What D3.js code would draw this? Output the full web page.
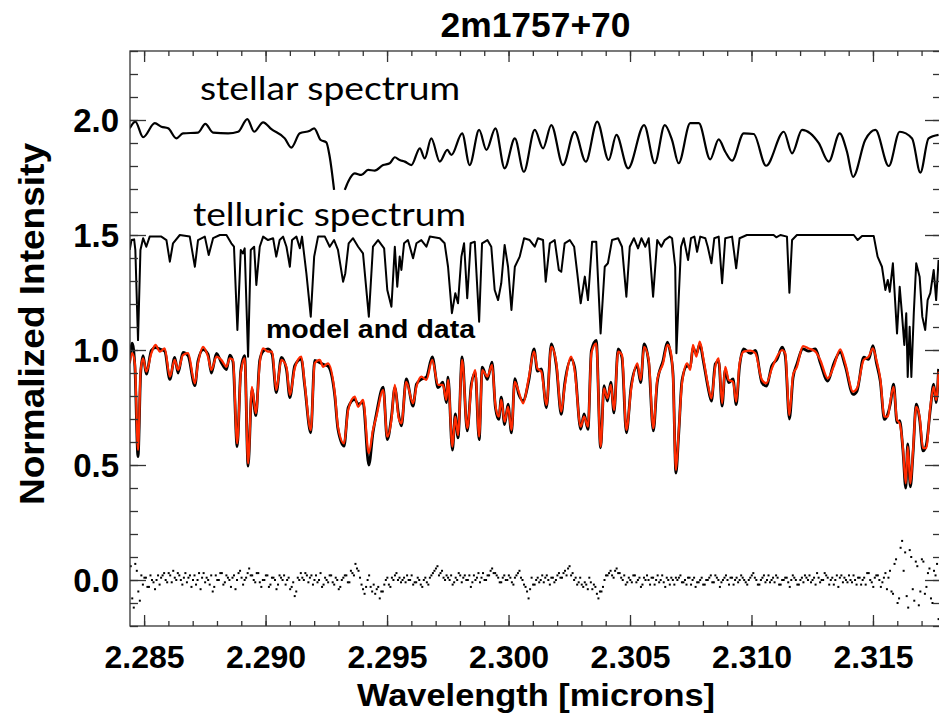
<!DOCTYPE html>
<html>
<head>
<meta charset="utf-8">
<script src="https://cdn.jsdelivr.net/npm/d3@7"></script>
<style>
body{margin:0;background:#fff;}
svg{display:block;}
</style>
</head>
<body>
<svg id="chart"></svg>
<script>
/* chart data */
const titleText = "2m1757+70";
const xTickValues = [2.285, 2.290, 2.295, 2.300, 2.305, 2.310, 2.315];
const xTickLabels = ["2.285", "2.290", "2.295", "2.300", "2.305", "2.310", "2.315"];
const yTickValues = [0.0, 0.5, 1.0, 1.5, 2.0];
const yTickLabels = ["0.0", "0.5", "1.0", "1.5", "2.0"];

/* stellar template, [wavelength, flux]; null = gap in plotted curve */
const stellar = [
 [2.28441,1.964],[2.28464,1.993],[2.28496,1.925],[2.28544,1.986],[2.28571,1.971],[2.28599,1.964],[2.28633,1.920],[2.28660,1.942],[2.28722,1.945],[2.28752,1.983],
 [2.28784,1.945],[2.28846,1.942],[2.28887,1.949],[2.28925,2.004],[2.28953,1.949],[2.28990,1.990],[2.29024,1.960],[2.29079,1.920],[2.29106,1.880],[2.29141,1.942],
 [2.29182,1.953],[2.29200,1.964],[2.29227,1.913],[2.29250,1.903],[2.29264,1.840],[2.29282,1.696],[2.29304,null],[2.29326,1.696],[2.29340,1.732],[2.29367,1.768],
 [2.29394,1.761],[2.29422,1.783],[2.29449,1.780],[2.29484,1.804],[2.29511,1.812],[2.29532,1.838],[2.29552,1.826],[2.29573,1.819],[2.29600,1.804],[2.29635,1.877],
 [2.29655,1.833],[2.29682,1.920],[2.29717,1.819],[2.29748,1.870],[2.29765,1.848],[2.29809,1.942],[2.29840,1.804],[2.29879,1.957],[2.29909,1.870],[2.29946,1.964],
 [2.29984,1.790],[2.30026,1.920],[2.30063,1.775],[2.30108,1.957],[2.30142,1.877],[2.30176,1.978],[2.30224,1.804],[2.30272,1.949],[2.30318,1.819],[2.30365,1.993],
 [2.30412,1.826],[2.30444,1.935],[2.30492,1.790],[2.30558,1.978],[2.30602,1.812],[2.30643,1.978],[2.30673,1.913],[2.30700,1.812],[2.30748,1.986],[2.30783,1.986],
 [2.30830,1.829],[2.30865,1.916],[2.30892,1.862],[2.30920,1.823],[2.30968,1.942],[2.31009,1.939],[2.31060,1.801],[2.31133,1.949],[2.31167,1.855],[2.31208,1.957],
 [2.31242,1.942],[2.31277,1.899],[2.31318,1.819],[2.31363,1.942],[2.31393,1.862],[2.31418,1.753],[2.31468,1.913],[2.31510,1.957],[2.31565,1.800],[2.31610,1.949],
 [2.31661,1.920],[2.31695,1.771],[2.31729,1.920],[2.31770,1.935]
];

/* telluric spectrum, [wavelength, flux] (offset +0.5) */
const telluric = [
 [2.28441,1.435],[2.28448,1.478],[2.28459,1.481],[2.28464,1.435],[2.28475,1.043],[2.28485,1.435],[2.28496,1.486],[2.28509,1.449],[2.28523,1.493],[2.28571,1.493],
 [2.28592,1.478],[2.28606,1.384],[2.28619,1.464],[2.28647,1.500],[2.28688,1.493],[2.28709,1.362],[2.28722,1.478],[2.28750,1.493],[2.28766,1.413],[2.28784,1.486],
 [2.28812,1.500],[2.28839,1.500],[2.28859,1.464],[2.28870,1.449],[2.28884,1.087],[2.28898,1.435],[2.28907,1.420],[2.28914,1.442],[2.28928,0.971],[2.28939,1.435],
 [2.28953,1.449],[2.28962,1.283],[2.28976,1.449],[2.28990,1.493],[2.29010,1.478],[2.29031,1.486],[2.29044,1.406],[2.29058,1.478],[2.29072,1.493],[2.29086,1.449],
 [2.29100,1.362],[2.29109,1.478],[2.29127,1.493],[2.29141,1.442],[2.29150,1.493],[2.29168,1.333],[2.29186,1.145],[2.29200,1.406],[2.29216,1.493],[2.29244,1.493],
 [2.29264,1.449],[2.29282,1.478],[2.29298,1.435],[2.29319,1.297],[2.29328,1.333],[2.29342,1.464],[2.29360,1.486],[2.29381,1.449],[2.29401,1.420],[2.29425,1.145],
 [2.29442,1.449],[2.29463,1.478],[2.29488,1.442],[2.29501,1.261],[2.29518,1.188],[2.29532,1.449],[2.29542,1.275],[2.29552,1.406],[2.29559,1.348],[2.29570,1.464],
 [2.29586,1.478],[2.29607,1.399],[2.29621,1.464],[2.29641,1.478],[2.29662,1.449],[2.29676,1.493],[2.29717,1.486],[2.29737,1.464],[2.29751,1.362],[2.29767,1.160],
 [2.29781,1.247],[2.29792,1.203],[2.29806,1.406],[2.29817,1.464],[2.29830,1.225],[2.29844,1.464],[2.29861,1.471],[2.29879,1.123],[2.29891,1.464],[2.29913,1.478],
 [2.29929,1.449],[2.29943,1.261],[2.29957,1.217],[2.29970,1.290],[2.29984,1.457],[2.29998,1.362],[2.30012,1.174],[2.30026,1.362],[2.30046,1.406],[2.30064,1.486],
 [2.30087,1.478],[2.30108,1.449],[2.30121,1.486],[2.30142,1.478],[2.30153,1.297],[2.30170,1.464],[2.30190,1.478],[2.30207,1.348],[2.30217,1.340],[2.30231,1.464],
 [2.30252,1.478],[2.30270,1.449],[2.30283,1.333],[2.30297,1.203],[2.30314,1.319],[2.30327,1.217],[2.30344,1.471],[2.30361,1.471],[2.30379,1.072],[2.30396,1.362],
 [2.30409,1.377],[2.30426,1.478],[2.30451,1.486],[2.30467,1.449],[2.30485,1.232],[2.30499,1.449],[2.30516,1.486],[2.30533,1.442],[2.30547,1.486],[2.30563,1.449],
 [2.30577,1.486],[2.30595,1.232],[2.30612,1.478],[2.30629,1.449],[2.30643,1.478],[2.30663,1.493],[2.30673,1.486],[2.30686,1.362],[2.30691,0.986],[2.30700,1.217],
 [2.30710,1.449],[2.30721,1.486],[2.30739,1.391],[2.30751,1.486],[2.30765,1.493],[2.30776,1.427],[2.30789,1.493],[2.30810,1.486],[2.30820,1.449],[2.30835,1.377],
 [2.30847,1.486],[2.30865,1.493],[2.30879,1.290],[2.30892,1.486],[2.30920,1.493],[2.30937,1.355],[2.30951,1.486],[2.30981,1.500],[2.31091,1.500],[2.31102,1.490],
 [2.31119,1.500],[2.31146,1.493],[2.31156,1.249],[2.31167,1.478],[2.31187,1.500],[2.31421,1.500],[2.31437,1.478],[2.31455,1.496],[2.31503,1.496],[2.31519,1.406],
 [2.31537,1.362],[2.31551,1.261],[2.31561,1.304],[2.31569,1.253],[2.31582,1.377],[2.31599,1.072],[2.31610,1.275],[2.31619,1.160],[2.31629,1.022],[2.31637,1.160],
 [2.31643,0.883],[2.31651,1.101],[2.31658,0.883],[2.31668,1.160],[2.31678,1.377],[2.31692,1.319],[2.31703,1.145],[2.31715,1.087],[2.31725,1.217],[2.31736,1.247],
 [2.31750,1.348],[2.31760,1.217],[2.31770,1.391]
];

/* observed data and model fit share one wavelength list */
const fitWave = [
 2.28441,2.28451,2.28462,2.28475,2.28486,2.28496,2.28509,2.28530,2.28547,2.28565,
 2.28585,2.28606,2.28626,2.28640,2.28660,2.28681,2.28709,2.28722,2.28743,2.28763,
 2.28777,2.28798,2.28818,2.28839,2.28853,2.28866,2.28883,2.28898,2.28914,2.28928,
 2.28944,2.28960,2.28976,2.28990,2.29010,2.29027,2.29044,2.29065,2.29086,2.29100,
 2.29120,2.29147,2.29161,2.29186,2.29202,2.29223,2.29237,2.29257,2.29285,2.29298,
 2.29323,2.29340,2.29367,2.29381,2.29401,2.29425,2.29442,2.29456,2.29484,2.29501,
 2.29518,2.29532,2.29548,2.29559,2.29579,2.29607,2.29621,2.29641,2.29662,2.29686,
 2.29710,2.29730,2.29744,2.29751,2.29769,2.29781,2.29792,2.29809,2.29830,2.29847,
 2.29863,2.29879,2.29892,2.29913,2.29932,2.29946,2.29960,2.29970,2.29984,2.29998,
 2.30012,2.30026,2.30042,2.30060,2.30083,2.30105,2.30119,2.30135,2.30156,2.30176,
 2.30197,2.30217,2.30231,2.30258,2.30272,2.30297,2.30311,2.30327,2.30341,2.30361,
 2.30379,2.30393,2.30407,2.30421,2.30434,2.30451,2.30467,2.30485,2.30505,2.30530,
 2.30544,2.30558,2.30577,2.30596,2.30612,2.30636,2.30654,2.30666,2.30677,2.30689,
 2.30700,2.30714,2.30735,2.30748,2.30759,2.30773,2.30787,2.30803,2.30820,2.30835,
 2.30851,2.30865,2.30879,2.30892,2.30906,2.30924,2.30937,2.30951,2.30968,2.30995,
 2.31016,2.31043,2.31061,2.31084,2.31105,2.31126,2.31139,2.31156,2.31171,2.31187,
 2.31212,2.31235,2.31263,2.31283,2.31314,2.31338,2.31365,2.31386,2.31418,2.31434,
 2.31462,2.31482,2.31500,2.31514,2.31530,2.31547,2.31561,2.31571,2.31585,2.31599,
 2.31610,2.31623,2.31635,2.31643,2.31654,2.31665,2.31678,2.31692,2.31706,2.31719,
 2.31736,2.31750,2.31760,2.31770
];
const modelFlux = [
 0.942,0.986,0.942,0.565,0.913,0.964,0.906,0.986,1.022,0.993,
 1.007,0.884,0.957,0.913,0.978,0.986,0.855,0.942,1.014,0.971,
 0.913,0.971,0.957,0.927,0.964,0.957,0.594,0.899,0.964,0.507,
 0.840,0.725,0.942,1.007,0.993,0.993,0.826,0.957,0.927,0.804,
 0.920,0.971,0.855,0.652,0.942,0.957,0.927,0.942,0.812,0.667,
 0.594,0.739,0.797,0.753,0.783,0.551,0.652,0.710,0.826,0.623,
 0.696,0.848,0.703,0.681,0.862,0.768,0.840,0.884,0.870,0.957,
 0.848,0.848,0.783,0.870,0.580,0.710,0.630,0.957,0.660,0.840,
 0.913,0.623,0.913,0.884,0.935,0.761,0.710,0.783,0.688,0.753,
 0.652,0.862,0.819,0.768,0.877,0.993,0.920,0.906,0.761,1.014,
 0.942,0.732,0.840,0.971,0.913,0.667,0.710,0.667,0.986,1.029,
 0.580,0.833,0.790,0.848,0.739,0.993,0.978,0.652,0.833,0.942,
 0.870,1.014,0.957,0.660,0.870,0.942,1.022,1.000,0.884,0.478,
 0.638,0.855,0.942,0.913,1.022,0.971,1.036,0.957,0.855,0.790,
 0.927,0.964,0.768,0.927,0.870,0.862,0.775,0.942,0.993,0.997,
 0.986,0.870,0.855,0.920,0.971,1.000,0.986,0.717,0.891,0.927,
 1.017,1.007,0.993,0.957,0.877,0.927,1.003,0.942,0.819,0.833,
 0.957,0.971,1.007,0.957,0.877,0.710,0.710,0.775,0.840,0.696,
 0.681,0.580,0.420,0.580,0.420,0.565,0.753,0.710,0.573,0.573,
 0.753,0.840,0.783,0.906
];
const dataFlux = [
 0.955,1.030,0.930,0.536,0.900,0.975,0.895,0.998,1.010,1.004,
 0.995,0.872,0.968,0.900,0.990,0.975,0.845,0.953,1.002,0.982,
 0.900,0.985,0.945,0.915,0.978,0.948,0.580,0.910,0.975,0.495,
 0.828,0.715,0.955,0.995,1.005,0.982,0.815,0.968,0.915,0.793,
 0.932,0.960,0.845,0.640,0.955,0.945,0.938,0.930,0.800,0.655,
 0.582,0.750,0.785,0.765,0.772,0.500,0.640,0.722,0.838,0.610,
 0.708,0.836,0.715,0.670,0.874,0.756,0.852,0.872,0.882,0.970,
 0.836,0.860,0.771,0.882,0.565,0.722,0.618,0.970,0.648,0.852,
 0.902,0.610,0.925,0.872,0.947,0.750,0.698,0.795,0.676,0.765,
 0.640,0.875,0.807,0.780,0.865,1.005,0.908,0.918,0.749,1.026,
 0.930,0.720,0.852,0.960,0.925,0.655,0.722,0.655,0.998,1.042,
 0.575,0.845,0.778,0.860,0.727,1.005,0.966,0.640,0.845,0.930,
 0.858,1.026,0.945,0.648,0.858,0.954,1.034,0.988,0.896,0.465,
 0.626,0.867,0.930,0.925,1.010,0.983,1.024,0.945,0.843,0.778,
 0.939,0.952,0.756,0.915,0.858,0.874,0.763,0.930,1.005,0.985,
 0.998,0.858,0.843,0.932,0.959,1.012,0.974,0.700,0.879,0.939,
 1.005,0.995,1.005,0.945,0.865,0.939,0.991,0.930,0.807,0.821,
 0.969,0.959,1.019,0.945,0.865,0.698,0.722,0.763,0.852,0.684,
 0.693,0.568,0.400,0.592,0.405,0.553,0.765,0.698,0.561,0.585,
 0.741,0.852,0.771,0.918
];

/* residuals (data - model) on the detector pixel grid: even and odd pixels */
const residStart = 2.28445;
const residStep = 0.000125;
const residEven = [
 .06,-.12,.04,-.09,
 -.02,.01,-.03,.00,-.04,.02,
 .01,.03,-.01,.02,.04,.00,.02,-.02,.03,.01,
 -.03,.02,.00,-.04,.03,.01,-.02,-.05,.02,.00,
 .03,-.01,.01,-.03,.02,.00,.04,-.02,.01,.05,
 .02,-.01,.03,-.03,.00,.02,-.02,.01,-.04,.02,
 .00,-.02,.01,-.03,-.07,.01,.03,.00,.02,.01,
 -.02,.02,.00,-.03,.01,-.01,.02,-.02,.00,-.03,
 .01,.02,-.01,.03,.07,.04,-.02,-.06,.00,-.03,
 -.02,-.04,-.08,-.05,.00,-.02,.01,.02,.00,-.01,
 .01,.02,.00,-.02,-.01,.00,-.03,.01,-.02,.02,
 .04,.06,.03,.01,.02,.00,-.02,.01,.03,-.01,
 .02,.00,-.03,.02,.01,-.01,.03,.00,.02,.05,
 .03,.01,-.01,.02,.00,.01,-.02,.02,.04,.00,
 -.03,-.08,.01,-.02,.01,.00,-.01,.02,-.02,.01,
 .00,.03,.01,.04,.05,.02,.00,-.02,.01,-.03,
 -.02,.01,-.04,-.03,-.08,-.05,.00,.02,.04,.01,
 .05,.03,.00,-.02,.01,-.01,.02,.00,-.03,.01,
 .02,-.02,.01,.00,-.01,.02,-.03,.00,.01,-.02,
 .00,.02,-.01,-.02,.01,.00,-.03,-.01,.01,-.02,
 .00,.02,-.01,.01,-.03,.00,.02,-.02,.01,.00,
 -.01,.02,.00,-.02,.01,.03,.00,-.02,.01,-.01,
 .02,.00,-.01,.01,-.02,.00,.01,-.03,.02,.00,
 -.02,.01,.02,.00,-.01,.01,.03,-.01,.00,.02,
 -.02,.01,.00,-.03,.02,.01,-.01,.00,.02,-.02,
 .01,.00,-.02,.03,-.01,.01,.02,-.03,.01,-.04,
 .04,-.06,.09,-.08,.17,.12,-.12,.10,-.09,.06,
 -.05,.08,-.03,.05,-.10,.02,-.17
];
const residOdd = [
 -.08,.07,-.05,.02,
 .01,-.03,.02,-.01,.00,-.02,
 .02,.00,.03,-.01,.01,.03,.00,.01,-.01,.02,
 .00,-.02,.03,.01,-.01,.00,.02,-.03,.00,.03,
 -.02,.02,.00,.01,-.04,.03,.01,.00,.03,.02,
 .00,.03,-.01,.00,.02,-.03,.01,.00,-.02,.01,
 .02,.00,-.04,-.01,-.05,.00,.01,.03,-.01,.02,
 .00,-.01,.03,-.02,.00,.02,-.01,.01,-.04,.00,
 .02,-.01,.04,.02,.05,.01,-.04,-.03,.02,-.05,
 -.06,-.03,-.05,-.02,.01,-.03,.00,.03,.01,.00,
 -.01,.00,.02,-.01,.01,-.02,.00,-.01,.01,.03,
 .05,.02,.04,.00,.01,.02,-.01,.00,.02,.01,
 .00,.02,-.01,.00,.03,.01,.00,.02,.04,.03,
 .02,-.01,.01,.00,.02,-.01,.01,.03,.01,-.02,
 -.05,-.04,-.02,.00,-.01,.02,.01,.00,.01,-.01,
 .02,.01,.03,.02,.06,.03,.01,-.01,-.02,-.01,
 -.04,-.01,-.02,-.06,-.05,-.03,.02,.03,.02,.04,
 .03,.01,.02,-.01,.00,.02,-.01,.01,-.02,.00,
 .00,.01,-.02,.02,.00,-.01,.01,-.02,.00,.01,
 .01,-.01,.00,.01,-.02,.01,-.01,.00,-.02,.00,
 .01,-.01,.02,.00,-.01,.01,.00,.01,-.02,.01,
 .00,.01,-.01,.00,.02,.01,-.02,.00,.02,.00,
 -.01,.01,.02,-.02,.00,.01,-.01,.00,.01,-.02,
 .00,-.01,.01,.02,.00,-.02,.01,.00,.03,.01,
 .00,-.02,.02,.01,-.01,.00,.02,-.01,.00,.01,
 -.02,.01,.03,.00,-.03,.02,.00,-.01,.03,.01,
 -.05,.07,-.10,.14,.04,-.07,.13,-.04,.08,-.11,
 .09,-.06,.03,-.08,.04,.07,-.04
];

/* layout */
const width = 939, height = 714;
const box = {left: 130, right: 941, top: 51, bottom: 626};
const boldFont = "'Liberation Sans', Arial, Helvetica, sans-serif";
const labelFont = "Lato, 'Open Sans', sans-serif";
const axisColor = "#333";

const svg = d3.select("#chart")
       .attr("width", width)
       .attr("height", height)
       .style("background", "#fff");

const x = d3.scaleLinear().domain([2.28442, 2.31780]).range([box.left, box.right]);
const y = d3.scaleLinear().domain([-0.2, 2.3]).range([box.bottom, box.top]);

svg.append("clipPath").attr("id", "plot-clip")
       .append("rect")
       .attr("x", box.left).attr("y", box.top)
       .attr("width", box.right - box.left).attr("height", box.bottom - box.top);

const plot = svg.append("g").attr("clip-path", "url(#plot-clip)");

const line = d3.line()
       .defined(d => d[1] !== null)
       .x(d => x(d[0]))
       .y(d => y(d[1]));

/*stellar template - smooth*/
plot.append("path")
       .datum(stellar)
       .attr("fill", "none")
       .attr("stroke", "#000")
       .attr("stroke-width", 2.2)
       .attr("stroke-linejoin", "round")
       .attr("d", line.curve(d3.curveMonotoneX));

/*telluric - sharp lines, straight segments*/
plot.append("path")
       .datum(telluric)
       .attr("fill", "none")
       .attr("stroke", "#000")
       .attr("stroke-width", 2)
       .attr("stroke-linejoin", "round")
       .attr("d", line.curve(d3.curveLinear));

/*data (black) under model (red)*/
const dataPts = fitWave.map((w, i) => [w, dataFlux[i]]);
const modelPts = fitWave.map((w, i) => [w, modelFlux[i]]);
line.curve(d3.curveMonotoneX);

plot.append("path")
       .datum(dataPts)
       .attr("fill", "none")
       .attr("stroke", "#000")
       .attr("stroke-width", 2.8)
       .attr("stroke-linejoin", "round")
       .attr("d", line);

plot.append("path")
       .datum(modelPts)
       .attr("fill", "none")
       .attr("stroke", "#ff2a00")
       .attr("stroke-width", 2.2)
       .attr("stroke-linejoin", "round")
       .attr("d", line);

/*residual dots*/
const residPts = residEven.map((v, i) => [residStart + i * residStep, v])
       .concat(residOdd.map((v, i) => [residStart + (i + 0.5) * residStep, v]));

plot.selectAll(".resid")
       .data(residPts)
       .enter()
       .append("rect")
       .attr("class", "resid")
       .attr("x", d => x(d[0]) - 1)
       .attr("y", d => y(d[1]) - 1)
       .attr("width", 2)
       .attr("height", 2)
       .attr("fill", "#000");

/*axes: frame + major/minor ticks on all four sides*/
const xMinor = d3.range(2285, 2318).map(v => v / 1000);
const yMinor = d3.range(-2, 24).map(v => v / 10);

function styleAxis(g) {
       g.select(".domain").remove();
       g.selectAll(".tick line").attr("stroke", axisColor).attr("stroke-width", 1.3);
}

svg.append("g").attr("transform", "translate(0," + box.bottom + ")")
       .call(d3.axisBottom(x).tickValues(xMinor).tickSize(-5).tickFormat(""))
       .call(styleAxis);
svg.append("g").attr("transform", "translate(0," + box.top + ")")
       .call(d3.axisTop(x).tickValues(xMinor).tickSize(-5).tickFormat(""))
       .call(styleAxis);
svg.append("g").attr("transform", "translate(0," + box.top + ")")
       .call(d3.axisTop(x).tickValues(xTickValues).tickSize(-11).tickFormat(""))
       .call(styleAxis);
svg.append("g").attr("transform", "translate(" + box.left + ",0)")
       .call(d3.axisLeft(y).tickValues(yMinor).tickSize(-8).tickFormat(""))
       .call(styleAxis);
svg.append("g").attr("transform", "translate(" + box.right + ",0)")
       .call(d3.axisRight(y).tickValues(yMinor).tickSize(-8).tickFormat(""))
       .call(styleAxis);
svg.append("g").attr("transform", "translate(" + box.right + ",0)")
       .call(d3.axisRight(y).tickValues(yTickValues).tickSize(-16).tickFormat(""))
       .call(styleAxis);

const xAxis = svg.append("g").attr("transform", "translate(0," + box.bottom + ")")
       .call(d3.axisBottom(x).tickValues(xTickValues).tickSize(-11)
              .tickFormat((d, i) => xTickLabels[i]))
       .call(styleAxis);
xAxis.selectAll(".tick text")
       .attr("y", 42).attr("dy", 0)
       .attr("fill", "#000")
       .style("font-family", boldFont).style("font-weight", "bold").style("font-size", "32px");

const yAxis = svg.append("g").attr("transform", "translate(" + box.left + ",0)")
       .call(d3.axisLeft(y).tickValues(yTickValues).tickSize(-16)
              .tickFormat((d, i) => yTickLabels[i]))
       .call(styleAxis);
yAxis.selectAll(".tick text")
       .attr("x", -11).attr("dy", "0.35em")
       .attr("fill", "#000")
       .style("font-family", boldFont).style("font-weight", "bold").style("font-size", "33px");

svg.append("rect")
       .attr("x", box.left).attr("y", box.top)
       .attr("width", box.right - box.left).attr("height", box.bottom - box.top)
       .attr("fill", "none").attr("stroke", axisColor).attr("stroke-width", 1.3);

/*titles*/
svg.append("text")
       .text(titleText)
       .attr("x", (box.left + box.right) / 2).attr("y", 37)
       .attr("text-anchor", "middle")
       .attr("textLength", 190).attr("lengthAdjust", "spacingAndGlyphs")
       .style("font-family", boldFont).style("font-weight", "bold").style("font-size", "35px");

svg.append("text")
       .text("Wavelength [microns]")
       .attr("x", 536).attr("y", 706)
       .attr("text-anchor", "middle")
       .attr("textLength", 358).attr("lengthAdjust", "spacingAndGlyphs")
       .style("font-family", boldFont).style("font-weight", "bold").style("font-size", "32px");

svg.append("text")
       .text("Normalized Intensity")
       .attr("transform", "translate(44,324) rotate(-90)")
       .attr("text-anchor", "middle")
       .attr("textLength", 362).attr("lengthAdjust", "spacingAndGlyphs")
       .style("font-family", boldFont).style("font-weight", "bold").style("font-size", "35px");

/*curve labels*/
svg.append("text")
       .text("stellar spectrum")
       .attr("x", 200).attr("y", 100)
       .attr("textLength", 260).attr("lengthAdjust", "spacingAndGlyphs")
       .style("font-family", labelFont).style("font-size", "33px");

svg.append("text")
       .text("telluric spectrum")
       .attr("x", 193).attr("y", 226)
       .attr("textLength", 273).attr("lengthAdjust", "spacingAndGlyphs")
       .style("font-family", labelFont).style("font-size", "33px");

svg.append("text")
       .text("model and data")
       .attr("x", 266).attr("y", 338)
       .attr("textLength", 209).attr("lengthAdjust", "spacingAndGlyphs")
       .style("font-family", boldFont).style("font-weight", "bold").style("font-size", "25px");
</script>
</body>
</html>
